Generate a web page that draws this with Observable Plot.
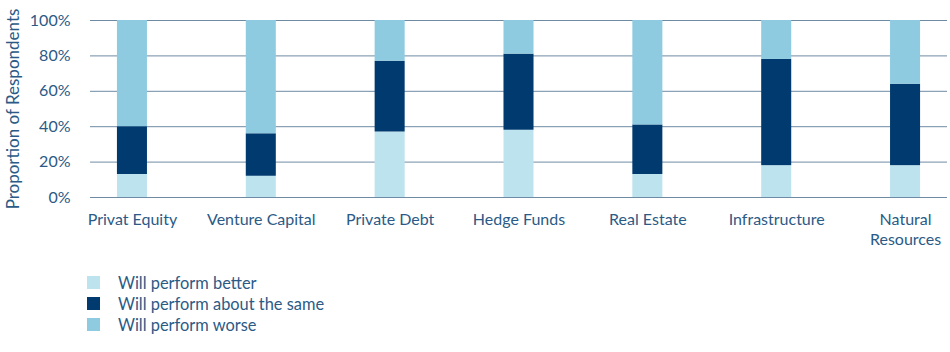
<!DOCTYPE html>
<html>
<head>
<meta charset="utf-8">
<script src="https://cdn.jsdelivr.net/npm/d3@7"></script>
<script src="https://cdn.jsdelivr.net/npm/@observablehq/plot@0.6"></script>
<style>
  body { margin: 0; background: #fff; font-family: Lato, "Noto Sans", sans-serif; }
  #chart svg { display: block; }
  .legend { margin: 22px 0 0 87px; color: #2b5a86; font-size: 16.4px; }
  .legend .row { display: flex; align-items: center; height: 21px; }
  .legend .sw { width: 13px; height: 13px; margin-right: 18px; }
</style>
</head>
<body>
<div id="chart"></div>
<div class="legend" id="legend"></div>
<script>
const categories = ["Privat Equity", "Venture Capital", "Private Debt", "Hedge Funds", "Real Estate", "Infrastructure", "Natural Resources"];
const categoryLabels = ["Privat Equity", "Venture Capital", "Private Debt", "Hedge Funds", "Real Estate", "Infrastructure", "Natural\nResources"];
const seriesNames = ["Will perform better", "Will perform about the same", "Will perform worse"];
const seriesColors = ["#bde3ef", "#003a6e", "#8ecbe1"];
const better = [13, 12, 37, 38, 13, 18, 18];
const same   = [27, 24, 40, 43, 28, 60, 46];
const worse  = [60, 64, 23, 19, 59, 22, 36];
const yTicks = [0, 20, 40, 60, 80, 100];

const seriesValues = [better, same, worse];
const data = [];
categories.forEach((c, i) => {
  seriesNames.forEach((s, j) => data.push({category: c, series: s, value: seriesValues[j][i]}));
});
const labelOf = new Map(categories.map((c, i) => [c, categoryLabels[i]]));
const textColor = "#2b5a86";

const chart = Plot.plot({
  width: 950,
  height: 250,
  marginLeft: 90,
  marginRight: 3,
  marginTop: 20,
  marginBottom: 53,
  style: {fontFamily: "Lato, 'Noto Sans', sans-serif", fontSize: "16px", color: textColor, background: "#fff"},
  x: {domain: categories, paddingInner: 0.767, paddingOuter: 0.209, round: false},
  y: {domain: [0, 100]},
  color: {domain: seriesNames, range: seriesColors},
  marks: [
    Plot.ruleY(yTicks, {stroke: "#6f8ba4", strokeWidth: 1}),
    Plot.barY(data, Plot.stackY({x: "category", y: "value", fill: "series", order: seriesNames})),
    Plot.axisY({ticks: yTicks, tickFormat: d => d + "%", tickSize: 0, tickPadding: 20, fontSize: 16,
      label: "Proportion of Respondents", labelAnchor: "center", labelArrow: "none", labelOffset: 84}),
    Plot.axisX({tickSize: 0, tickPadding: 13, fontSize: 16, tickFormat: d => labelOf.get(d), label: null, lineHeight: 1.25})
  ]
});
chart.querySelectorAll("g[aria-label='y-axis label'] text").forEach(t => t.style.fontSize = "17px");
document.getElementById("chart").appendChild(chart);

const legend = document.getElementById("legend");
seriesNames.forEach((s, j) => {
  const row = document.createElement("div");
  row.className = "row";
  const sw = document.createElement("div");
  sw.className = "sw";
  sw.style.background = seriesColors[j];
  const t = document.createElement("span");
  t.textContent = s;
  row.appendChild(sw); row.appendChild(t);
  legend.appendChild(row);
});
</script>
</body>
</html>
